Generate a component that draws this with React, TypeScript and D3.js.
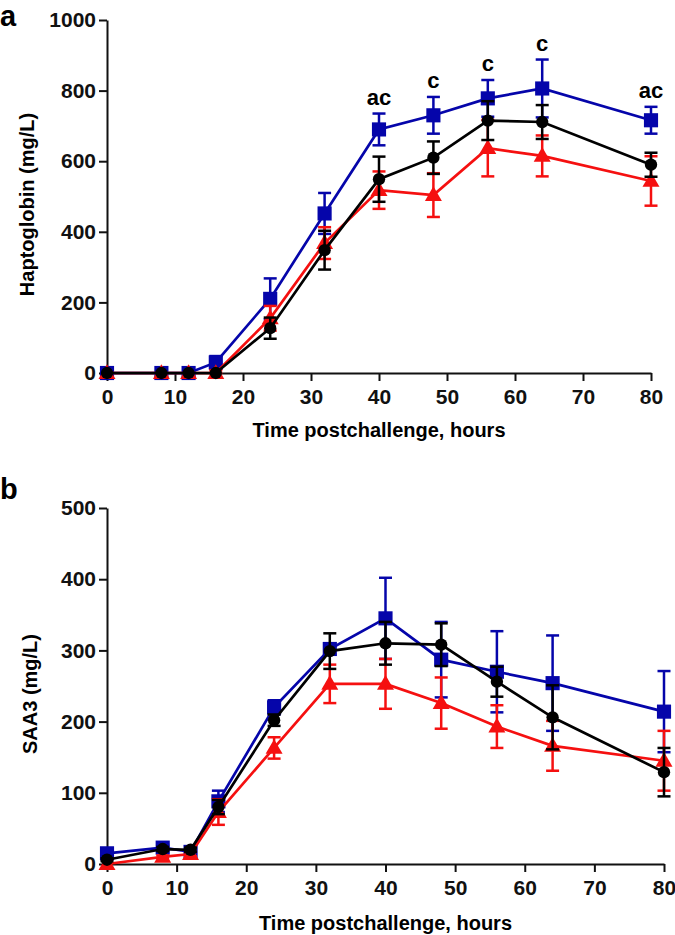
import React, { useRef, useEffect } from 'react'
import * as d3 from 'd3'

// sampling times (hours postchallenge)
const hours = [0, 8, 12, 16, 24, 32, 40, 48, 56, 64, 80]

// panel a: haptoglobin (mg/L), mean and SEM
const hpBlack = [0, 0, 0, 0, 127, 348, 549, 610, 715, 711, 590]
const hpBlackErr = [0, 0, 0, 0, 30, 55, 64, 46, 55, 48, 34]
const hpBlue = [0, 0, 0, 30, 210, 452, 690, 730, 778, 806, 716]
const hpBlueErr = [0, 0, 0, 18, 58, 58, 45, 52, 52, 82, 38]
const hpRed = [0, 0, 0, 0, 155, 368, 518, 504, 637, 615, 544]
const hpRedErr = [0, 0, 0, 8, 35, 45, 53, 62, 80, 58, 70]
const hpLetters = ['', '', '', '', '', '', 'ac', 'c', 'c', 'c', 'ac']

// panel b: SAA3 (mg/L), mean and SEM
const saaBlack = [6, 21, 20, 80, 202, 299, 310, 308, 256, 206, 129]
const saaBlackErr = [2, 3, 3, 10, 8, 25, 30, 30, 21, 45, 34]
const saaBlue = [15, 23, 17, 88, 220, 302, 345, 287, 270, 254, 214]
const saaBlueErr = [3, 4, 3, 15, 10, 8, 57, 53, 57, 67, 57]
const saaRed = [0, 10, 14, 73, 163, 253, 253, 226, 193, 166, 145]
const saaRedErr = [0, 2, 3, 18, 15, 27, 35, 36, 30, 35, 42]

const xTicks = [0, 10, 20, 30, 40, 50, 60, 70, 80]

const BLUE = '#0505aa'
const RED = '#f51010'
const BLACK = '#000'
const FONT = '"Liberation Sans", Arial, sans-serif'

type Series = { vals: number[]; err: number[]; color: string; shape: string }

const App = () => {
	const svgRef = useRef<SVGSVGElement | null>(null)

	useEffect(() => {
		const svg = d3.select(svgRef.current)
		svg.selectAll('*').remove()

		const drawPanel = (
			label: string,
			labelY: number,
			xRange: [number, number],
			yRange: [number, number],
			yMax: number,
			yTicks: number[],
			yTitle: string,
			yTitleX: number,
			xTitleY: number,
			series: Series[],
			letters: string[] | null
		) => {
			const x = d3.scaleLinear().domain([0, 80]).range(xRange)
			const y = d3.scaleLinear().domain([0, yMax]).range(yRange)
			const g = svg.append('g')

			// axes
			const xAxis = g
				.append('g')
				.attr('transform', `translate(0,${yRange[0]})`)
				.call(d3.axisBottom(x).tickValues(xTicks).tickSize(8).tickPadding(8).tickSizeOuter(0))
			const yAxis = g
				.append('g')
				.attr('transform', `translate(${xRange[0]},0)`)
				.call(
					d3.axisLeft(y).tickValues(yTicks).tickFormat(d3.format('d')).tickSize(8).tickPadding(3).tickSizeOuter(0)
				)
			;[xAxis, yAxis].forEach((a) => {
				a.selectAll('path, line').attr('stroke', '#111').attr('stroke-width', 2)
				a.selectAll('text')
					.attr('font-family', FONT)
					.attr('font-weight', 'bold')
					.attr('font-size', 21)
					.attr('fill', '#111')
			})

			// titles
			g.append('text')
				.attr('x', (xRange[0] + xRange[1]) / 2)
				.attr('y', xTitleY)
				.attr('text-anchor', 'middle')
				.attr('font-family', FONT)
				.attr('font-weight', 'bold')
				.attr('font-size', 20)
				.text('Time postchallenge, hours')
			g.append('text')
				.attr('transform', `translate(${yTitleX},${(yRange[0] + yRange[1]) / 2 + 8}) rotate(-90)`)
				.attr('text-anchor', 'middle')
				.attr('font-family', FONT)
				.attr('font-weight', 'bold')
				.attr('font-size', 20)
				.text(yTitle)
			g.append('text')
				.attr('x', 0)
				.attr('y', labelY)
				.attr('font-family', FONT)
				.attr('font-weight', 'bold')
				.attr('font-size', 29)
				.text(label)

			series.forEach((s) => {
				const sg = g.append('g')
				const pts = hours.map((h, i) => ({ h, v: s.vals[i], e: s.err[i] }))
				// error bars
				pts.filter((d) => d.e > 0).forEach((d) => {
					const top = y(d.v + d.e)
					const bot = y(Math.max(0, d.v - d.e))
					sg.append('line')
						.attr('x1', x(d.h)).attr('x2', x(d.h))
						.attr('y1', top).attr('y2', bot)
						.attr('stroke', s.color).attr('stroke-width', 2.5)
					;[top, bot].forEach((yy) =>
						sg.append('line')
							.attr('x1', x(d.h) - 6.5).attr('x2', x(d.h) + 6.5)
							.attr('y1', yy).attr('y2', yy)
							.attr('stroke', s.color).attr('stroke-width', 2.5)
					)
				})
				const line = d3.line<{ h: number; v: number }>().x((d) => x(d.h)).y((d) => y(d.v))
				sg.append('path')
					.attr('d', line(pts))
					.attr('fill', 'none')
					.attr('stroke', s.color)
					.attr('stroke-width', 2.7)
				const sym =
					s.shape === 'square'
						? d3.symbol(d3.symbolSquare, 200)
						: s.shape === 'circle'
						? d3.symbol(d3.symbolCircle, 120)
						: d3.symbol(d3.symbolTriangle, 125)
				sg.selectAll('path.m')
					.data(pts)
					.enter()
					.append('path')
					.attr('class', 'm')
					.attr('d', sym)
					.attr('transform', (d) => `translate(${x(d.h)},${y(d.v) + (s.shape === 'triangle' ? 1 : 0)})`)
					.attr('fill', s.color)
			})

			if (letters) {
				const blue = series.find((s) => s.color === BLUE)!
				letters.forEach((t, i) => {
					if (!t) return
					g.append('text')
						.attr('x', x(hours[i]))
						.attr('y', y(blue.vals[i] + blue.err[i]) - 9)
						.attr('text-anchor', 'middle')
						.attr('font-family', FONT)
						.attr('font-weight', 'bold')
						.attr('font-size', 22)
						.text(t)
				})
			}
		}

		drawPanel(
			'a', 26, [107, 651], [373, 20], 1000, [0, 200, 400, 600, 800, 1000],
			'Haptoglobin (mg/L)', 34, 437,
			[
				{ vals: hpBlue, err: hpBlueErr, color: BLUE, shape: 'square' },
				{ vals: hpRed, err: hpRedErr, color: RED, shape: 'triangle' },
				{ vals: hpBlack, err: hpBlackErr, color: BLACK, shape: 'circle' },
			],
			hpLetters
		)
		drawPanel(
			'b', 499, [107, 664], [864, 508], 500, [0, 100, 200, 300, 400, 500],
			'SAA3 (mg/L)', 37, 930,
			[
				{ vals: saaBlue, err: saaBlueErr, color: BLUE, shape: 'square' },
				{ vals: saaRed, err: saaRedErr, color: RED, shape: 'triangle' },
				{ vals: saaBlack, err: saaBlackErr, color: BLACK, shape: 'circle' },
			],
			null
		)
	}, [])

	return (
		<svg
			ref={svgRef}
			width={675}
			height={935}
			style={{ position: 'absolute', left: 0, top: 0, background: '#fff' }}
		></svg>
	)
}

export default App
